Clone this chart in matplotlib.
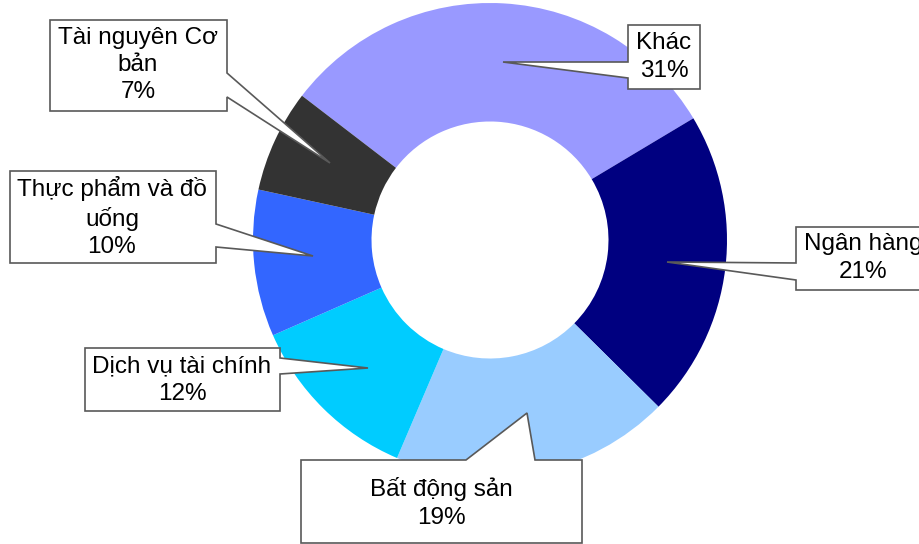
import matplotlib.pyplot as plt
from matplotlib.patches import Polygon

plt.rcParams['font.family'] = ['Liberation Sans', 'DejaVu Sans']

# du lieu
nhan = ['Khác', 'Ngân hàng', 'Bất động sản', 'Dịch vụ tài chính',
        'Thực phẩm và đồ uống', 'Tài nguyên Cơ bản']
ty_le = [31, 21, 19, 12, 10, 7]
mau = ['#9999FF', '#000080', '#99CCFF', '#00CCFF', '#3366FF', '#333333']
nhan_hien = ['Khác\n31%', 'Ngân hàng\n21%', 'Bất động sản\n19%',
             'Dịch vụ tài chính\n12%', 'Thực phẩm và đồ\nuống\n10%',
             'Tài nguyên Cơ\nbản\n7%']

W, H = 920, 544
fig = plt.figure(figsize=(W / 100, H / 100), dpi=100)
ax = fig.add_axes([0, 0, 1, 1])

ax.pie(ty_le, colors=mau, startangle=142.5, counterclock=False,
       center=(490, H - 240), radius=237,
       wedgeprops=dict(width=118.5, linewidth=0))
ax.set_xlim(0, W)
ax.set_ylim(0, H)
ax.set_aspect('equal')
ax.axis('off')


def Y(y):
    return H - y


# hop chu: (x0, y0, x1, y1), canh co mui ten, hai diem tren canh, dau mui ten, tam chu
hop = [
    ((628, 25, 700, 89), 'left', (62, 78), (503, 62), (664, 57)),
    ((796, 227, 930, 290), 'left', (263, 280), (667, 262), (863, 258)),
    ((301, 460, 582, 543), 'top', (466, 535), (527, 413), (441, 503)),
    ((85, 348, 280, 411), 'right', (358, 374), (368, 368), (182, 380)),
    ((10, 171, 216, 263), 'right', (224, 247), (313, 256), (112, 217)),
    ((50, 20, 227, 111), 'right', (73, 97), (330, 163), (138, 65)),
]

for txt, (b, canh, (p1, p2), tip, tam) in zip(nhan_hien, hop):
    x0, y0, x1, y1 = b
    if canh == 'right':
        pts = [(x0, y0), (x1, y0), (x1, p1), tip, (x1, p2), (x1, y1), (x0, y1)]
    elif canh == 'left':
        pts = [(x0, y0), (x1, y0), (x1, y1), (x0, y1), (x0, p2), tip, (x0, p1)]
    else:
        pts = [(x0, y0), (p1, y0), tip, (p2, y0), (x1, y0), (x1, y1), (x0, y1)]
    pts = [(px, Y(py)) for px, py in pts]
    ax.add_patch(Polygon(pts, closed=True, facecolor='white',
                         edgecolor='#595959', linewidth=1.2, zorder=5,
                         clip_on=False))
    ax.text(tam[0], Y(tam[1]), txt, ha='center', va='center', fontsize=17.5,
            linespacing=1.3, zorder=6, color='black')

fig.savefig('out.png', dpi=100)
